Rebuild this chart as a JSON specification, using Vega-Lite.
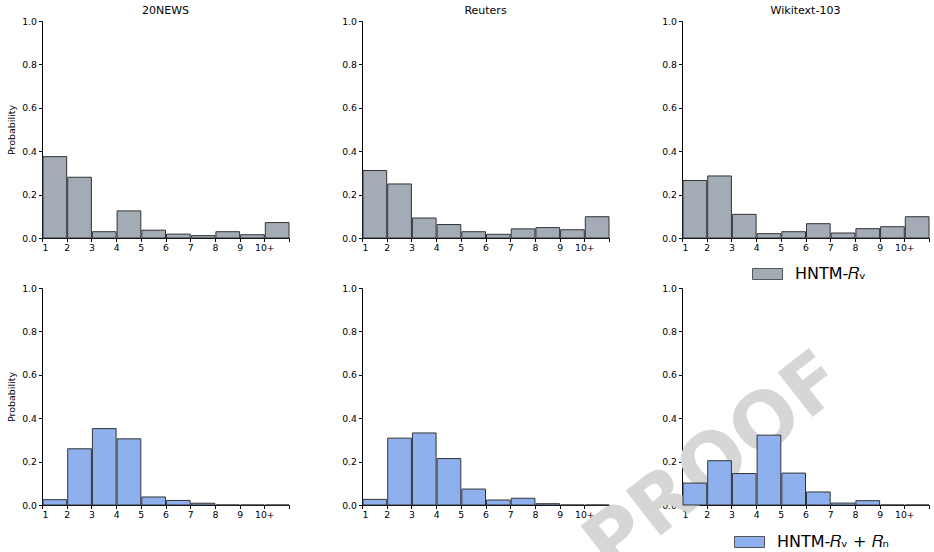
{
  "$schema": "https://vega.github.io/schema/vega-lite/v6.json",
  "padding": {"left": 6, "top": 5, "right": 0, "bottom": 0},
  "background": "white",
  "config": {
    "font": "DejaVu Sans",
    "view": {"stroke": null},
    "axis": {
      "grid": false,
      "domainColor": "#000000",
      "domainWidth": 1,
      "tickColor": "#000000",
      "tickWidth": 1,
      "tickSize": 3.5,
      "labelColor": "#000000",
      "labelFont": "DejaVu Sans",
      "labelFontSize": 9.3,
      "labelPadding": 2,
      "titleFont": "DejaVu Sans",
      "titleFontSize": 9.5,
      "titleFontWeight": "normal",
      "titleColor": "#000000",
      "titlePadding": 5.5,
      "zindex": 1
    },
    "title": {"font": "DejaVu Sans", "fontSize": 11, "fontWeight": "normal", "color": "#000000", "offset": 1},
    "legend": {"padding": 0, "labelFont": "DejaVu Sans", "labelFontSize": 16, "labelColor": "#000000"}
  },
  "datasets": {
    "hist": [
      {"dataset": "20NEWS", "model": "HNTM-𝑅ᵥ", "bin": 1, "bin_end": 2, "p": 0.375},
      {"dataset": "20NEWS", "model": "HNTM-𝑅ᵥ", "bin": 2, "bin_end": 3, "p": 0.28},
      {"dataset": "20NEWS", "model": "HNTM-𝑅ᵥ", "bin": 3, "bin_end": 4, "p": 0.029},
      {"dataset": "20NEWS", "model": "HNTM-𝑅ᵥ", "bin": 4, "bin_end": 5, "p": 0.125},
      {"dataset": "20NEWS", "model": "HNTM-𝑅ᵥ", "bin": 5, "bin_end": 6, "p": 0.036},
      {"dataset": "20NEWS", "model": "HNTM-𝑅ᵥ", "bin": 6, "bin_end": 7, "p": 0.018},
      {"dataset": "20NEWS", "model": "HNTM-𝑅ᵥ", "bin": 7, "bin_end": 8, "p": 0.011},
      {"dataset": "20NEWS", "model": "HNTM-𝑅ᵥ", "bin": 8, "bin_end": 9, "p": 0.029},
      {"dataset": "20NEWS", "model": "HNTM-𝑅ᵥ", "bin": 9, "bin_end": 10, "p": 0.015},
      {"dataset": "20NEWS", "model": "HNTM-𝑅ᵥ", "bin": 10, "bin_end": 11, "p": 0.071},
      {"dataset": "Reuters", "model": "HNTM-𝑅ᵥ", "bin": 1, "bin_end": 2, "p": 0.311},
      {"dataset": "Reuters", "model": "HNTM-𝑅ᵥ", "bin": 2, "bin_end": 3, "p": 0.249},
      {"dataset": "Reuters", "model": "HNTM-𝑅ᵥ", "bin": 3, "bin_end": 4, "p": 0.092},
      {"dataset": "Reuters", "model": "HNTM-𝑅ᵥ", "bin": 4, "bin_end": 5, "p": 0.062},
      {"dataset": "Reuters", "model": "HNTM-𝑅ᵥ", "bin": 5, "bin_end": 6, "p": 0.029},
      {"dataset": "Reuters", "model": "HNTM-𝑅ᵥ", "bin": 6, "bin_end": 7, "p": 0.017},
      {"dataset": "Reuters", "model": "HNTM-𝑅ᵥ", "bin": 7, "bin_end": 8, "p": 0.042},
      {"dataset": "Reuters", "model": "HNTM-𝑅ᵥ", "bin": 8, "bin_end": 9, "p": 0.048},
      {"dataset": "Reuters", "model": "HNTM-𝑅ᵥ", "bin": 9, "bin_end": 10, "p": 0.038},
      {"dataset": "Reuters", "model": "HNTM-𝑅ᵥ", "bin": 10, "bin_end": 11, "p": 0.098},
      {"dataset": "Wikitext-103", "model": "HNTM-𝑅ᵥ", "bin": 1, "bin_end": 2, "p": 0.265},
      {"dataset": "Wikitext-103", "model": "HNTM-𝑅ᵥ", "bin": 2, "bin_end": 3, "p": 0.286},
      {"dataset": "Wikitext-103", "model": "HNTM-𝑅ᵥ", "bin": 3, "bin_end": 4, "p": 0.109},
      {"dataset": "Wikitext-103", "model": "HNTM-𝑅ᵥ", "bin": 4, "bin_end": 5, "p": 0.02},
      {"dataset": "Wikitext-103", "model": "HNTM-𝑅ᵥ", "bin": 5, "bin_end": 6, "p": 0.029},
      {"dataset": "Wikitext-103", "model": "HNTM-𝑅ᵥ", "bin": 6, "bin_end": 7, "p": 0.066},
      {"dataset": "Wikitext-103", "model": "HNTM-𝑅ᵥ", "bin": 7, "bin_end": 8, "p": 0.023},
      {"dataset": "Wikitext-103", "model": "HNTM-𝑅ᵥ", "bin": 8, "bin_end": 9, "p": 0.043},
      {"dataset": "Wikitext-103", "model": "HNTM-𝑅ᵥ", "bin": 9, "bin_end": 10, "p": 0.052},
      {"dataset": "Wikitext-103", "model": "HNTM-𝑅ᵥ", "bin": 10, "bin_end": 11, "p": 0.098},
      {"dataset": "20NEWS", "model": "HNTM-𝑅ᵥ + 𝑅ₙ", "bin": 1, "bin_end": 2, "p": 0.0245},
      {"dataset": "20NEWS", "model": "HNTM-𝑅ᵥ + 𝑅ₙ", "bin": 2, "bin_end": 3, "p": 0.259},
      {"dataset": "20NEWS", "model": "HNTM-𝑅ᵥ + 𝑅ₙ", "bin": 3, "bin_end": 4, "p": 0.352},
      {"dataset": "20NEWS", "model": "HNTM-𝑅ᵥ + 𝑅ₙ", "bin": 4, "bin_end": 5, "p": 0.305},
      {"dataset": "20NEWS", "model": "HNTM-𝑅ᵥ + 𝑅ₙ", "bin": 5, "bin_end": 6, "p": 0.037},
      {"dataset": "20NEWS", "model": "HNTM-𝑅ᵥ + 𝑅ₙ", "bin": 6, "bin_end": 7, "p": 0.021},
      {"dataset": "20NEWS", "model": "HNTM-𝑅ᵥ + 𝑅ₙ", "bin": 7, "bin_end": 8, "p": 0.008},
      {"dataset": "20NEWS", "model": "HNTM-𝑅ᵥ + 𝑅ₙ", "bin": 8, "bin_end": 9, "p": 0},
      {"dataset": "20NEWS", "model": "HNTM-𝑅ᵥ + 𝑅ₙ", "bin": 9, "bin_end": 10, "p": 0},
      {"dataset": "20NEWS", "model": "HNTM-𝑅ᵥ + 𝑅ₙ", "bin": 10, "bin_end": 11, "p": 0},
      {"dataset": "Reuters", "model": "HNTM-𝑅ᵥ + 𝑅ₙ", "bin": 1, "bin_end": 2, "p": 0.026},
      {"dataset": "Reuters", "model": "HNTM-𝑅ᵥ + 𝑅ₙ", "bin": 2, "bin_end": 3, "p": 0.308},
      {"dataset": "Reuters", "model": "HNTM-𝑅ᵥ + 𝑅ₙ", "bin": 3, "bin_end": 4, "p": 0.332},
      {"dataset": "Reuters", "model": "HNTM-𝑅ᵥ + 𝑅ₙ", "bin": 4, "bin_end": 5, "p": 0.214},
      {"dataset": "Reuters", "model": "HNTM-𝑅ᵥ + 𝑅ₙ", "bin": 5, "bin_end": 6, "p": 0.0735},
      {"dataset": "Reuters", "model": "HNTM-𝑅ᵥ + 𝑅ₙ", "bin": 6, "bin_end": 7, "p": 0.023},
      {"dataset": "Reuters", "model": "HNTM-𝑅ᵥ + 𝑅ₙ", "bin": 7, "bin_end": 8, "p": 0.031},
      {"dataset": "Reuters", "model": "HNTM-𝑅ᵥ + 𝑅ₙ", "bin": 8, "bin_end": 9, "p": 0.006},
      {"dataset": "Reuters", "model": "HNTM-𝑅ᵥ + 𝑅ₙ", "bin": 9, "bin_end": 10, "p": 0},
      {"dataset": "Reuters", "model": "HNTM-𝑅ᵥ + 𝑅ₙ", "bin": 10, "bin_end": 11, "p": 0},
      {"dataset": "Wikitext-103", "model": "HNTM-𝑅ᵥ + 𝑅ₙ", "bin": 1, "bin_end": 2, "p": 0.101},
      {"dataset": "Wikitext-103", "model": "HNTM-𝑅ᵥ + 𝑅ₙ", "bin": 2, "bin_end": 3, "p": 0.204},
      {"dataset": "Wikitext-103", "model": "HNTM-𝑅ᵥ + 𝑅ₙ", "bin": 3, "bin_end": 4, "p": 0.145},
      {"dataset": "Wikitext-103", "model": "HNTM-𝑅ᵥ + 𝑅ₙ", "bin": 4, "bin_end": 5, "p": 0.322},
      {"dataset": "Wikitext-103", "model": "HNTM-𝑅ᵥ + 𝑅ₙ", "bin": 5, "bin_end": 6, "p": 0.147},
      {"dataset": "Wikitext-103", "model": "HNTM-𝑅ᵥ + 𝑅ₙ", "bin": 6, "bin_end": 7, "p": 0.06},
      {"dataset": "Wikitext-103", "model": "HNTM-𝑅ᵥ + 𝑅ₙ", "bin": 7, "bin_end": 8, "p": 0.009},
      {"dataset": "Wikitext-103", "model": "HNTM-𝑅ᵥ + 𝑅ₙ", "bin": 8, "bin_end": 9, "p": 0.02},
      {"dataset": "Wikitext-103", "model": "HNTM-𝑅ᵥ + 𝑅ₙ", "bin": 9, "bin_end": 10, "p": 0},
      {"dataset": "Wikitext-103", "model": "HNTM-𝑅ᵥ + 𝑅ₙ", "bin": 10, "bin_end": 11, "p": 0}
    ],
    "mark": [{"word": "PROOF"}]
  },
  "columns": 3,
  "bounds": "flush",
  "spacing": {"row": 50, "column": 73},
  "resolve": {"scale": {"fill": "independent"}, "legend": {"fill": "independent"}},
  "concat": [
    {
      "width": 247, "height": 217,
      "title": "20NEWS",
      "data": {"name": "hist"},
      "transform": [{"filter": {"field": "dataset", "equal": "20NEWS"}}, {"filter": {"field": "model", "equal": "HNTM-𝑅ᵥ"}}],
      "mark": {"type": "bar", "fill": "#a2abb6", "stroke": "#333333", "strokeWidth": 1},
      "encoding": {
        "x": {"field": "bin", "type": "quantitative", "bin": {"binned": true, "step": 1}, "scale": {"domain": [1, 11], "nice": false, "zero": false}, "axis": {"title": null, "values": [1, 2, 3, 4, 5, 6, 7, 8, 9, 10, 11], "labelExpr": "datum.value == 10 ? '10+' : datum.value == 11 ? '' : datum.label"}},
        "x2": {"field": "bin_end"},
        "y": {"field": "p", "type": "quantitative", "scale": {"domain": [0, 1], "nice": false}, "axis": {"title": "Probability", "values": [0, 0.2, 0.4, 0.6, 0.8, 1], "format": ".1f"}}
      }
    },
    {
      "width": 247, "height": 217,
      "title": "Reuters",
      "data": {"name": "hist"},
      "transform": [{"filter": {"field": "dataset", "equal": "Reuters"}}, {"filter": {"field": "model", "equal": "HNTM-𝑅ᵥ"}}],
      "mark": {"type": "bar", "fill": "#a2abb6", "stroke": "#333333", "strokeWidth": 1},
      "encoding": {
        "x": {"field": "bin", "type": "quantitative", "bin": {"binned": true, "step": 1}, "scale": {"domain": [1, 11], "nice": false, "zero": false}, "axis": {"title": null, "values": [1, 2, 3, 4, 5, 6, 7, 8, 9, 10, 11], "labelExpr": "datum.value == 10 ? '10+' : datum.value == 11 ? '' : datum.label"}},
        "x2": {"field": "bin_end"},
        "y": {"field": "p", "type": "quantitative", "scale": {"domain": [0, 1], "nice": false}, "axis": {"title": null, "values": [0, 0.2, 0.4, 0.6, 0.8, 1], "format": ".1f"}}
      }
    },
    {
      "width": 247, "height": 217,
      "title": "Wikitext-103",
      "data": {"name": "hist"},
      "transform": [{"filter": {"field": "dataset", "equal": "Wikitext-103"}}, {"filter": {"field": "model", "equal": "HNTM-𝑅ᵥ"}}],
      "mark": {"type": "bar", "stroke": "#333333", "strokeWidth": 1, "opacity": 1},
      "encoding": {
        "x": {"field": "bin", "type": "quantitative", "bin": {"binned": true, "step": 1}, "scale": {"domain": [1, 11], "nice": false, "zero": false}, "axis": {"title": null, "values": [1, 2, 3, 4, 5, 6, 7, 8, 9, 10, 11], "labelExpr": "datum.value == 10 ? '10+' : datum.value == 11 ? '' : datum.label"}},
        "x2": {"field": "bin_end"},
        "y": {"field": "p", "type": "quantitative", "scale": {"domain": [0, 1], "nice": false}, "axis": {"title": null, "values": [0, 0.2, 0.4, 0.6, 0.8, 1], "format": ".1f"}},
        "fill": {"field": "model", "type": "nominal", "scale": {"range": ["#a2abb6"]}, "legend": {"title": null, "orient": "none", "legendX": 70, "legendY": 237.5, "symbolType": "M-1,-0.367H1V0.367H-1Z", "symbolSize": 900, "symbolStrokeColor": "#555555", "symbolStrokeWidth": 1, "labelOffset": 12}}
      }
    },
    {
      "width": 247, "height": 217,
      "data": {"name": "hist"},
      "transform": [{"filter": {"field": "dataset", "equal": "20NEWS"}}, {"filter": {"field": "model", "equal": "HNTM-𝑅ᵥ + 𝑅ₙ"}}],
      "mark": {"type": "bar", "fill": "#8fb0ee", "stroke": "#333333", "strokeWidth": 1},
      "encoding": {
        "x": {"field": "bin", "type": "quantitative", "bin": {"binned": true, "step": 1}, "scale": {"domain": [1, 11], "nice": false, "zero": false}, "axis": {"title": null, "values": [1, 2, 3, 4, 5, 6, 7, 8, 9, 10, 11], "labelExpr": "datum.value == 10 ? '10+' : datum.value == 11 ? '' : datum.label"}},
        "x2": {"field": "bin_end"},
        "y": {"field": "p", "type": "quantitative", "scale": {"domain": [0, 1], "nice": false}, "axis": {"title": "Probability", "values": [0, 0.2, 0.4, 0.6, 0.8, 1], "format": ".1f"}}
      }
    },
    {
      "width": 247, "height": 217,
      "data": {"name": "hist"},
      "transform": [{"filter": {"field": "dataset", "equal": "Reuters"}}, {"filter": {"field": "model", "equal": "HNTM-𝑅ᵥ + 𝑅ₙ"}}],
      "mark": {"type": "bar", "fill": "#8fb0ee", "stroke": "#333333", "strokeWidth": 1},
      "encoding": {
        "x": {"field": "bin", "type": "quantitative", "bin": {"binned": true, "step": 1}, "scale": {"domain": [1, 11], "nice": false, "zero": false}, "axis": {"title": null, "values": [1, 2, 3, 4, 5, 6, 7, 8, 9, 10, 11], "labelExpr": "datum.value == 10 ? '10+' : datum.value == 11 ? '' : datum.label"}},
        "x2": {"field": "bin_end"},
        "y": {"field": "p", "type": "quantitative", "scale": {"domain": [0, 1], "nice": false}, "axis": {"title": null, "values": [0, 0.2, 0.4, 0.6, 0.8, 1], "format": ".1f"}}
      }
    },
    {
      "width": 247, "height": 217,
      "layer": [
        {
          "data": {"name": "mark"},
          "mark": {"type": "text", "angle": -38, "fontSize": 78, "fontWeight": "bold", "color": "#d6d6d6", "align": "center", "baseline": "middle"},
          "encoding": {
            "text": {"field": "word"},
            "x": {"datum": 2.35},
            "y": {"datum": 0.19}
          }
        },
        {
          "data": {"name": "hist"},
          "transform": [{"filter": {"field": "dataset", "equal": "Wikitext-103"}}, {"filter": {"field": "model", "equal": "HNTM-𝑅ᵥ + 𝑅ₙ"}}],
          "mark": {"type": "bar", "stroke": "#333333", "strokeWidth": 1, "opacity": 1},
          "encoding": {
            "x": {"field": "bin", "type": "quantitative", "bin": {"binned": true, "step": 1}, "scale": {"domain": [1, 11], "nice": false, "zero": false}, "axis": {"title": null, "values": [1, 2, 3, 4, 5, 6, 7, 8, 9, 10, 11], "labelExpr": "datum.value == 10 ? '10+' : datum.value == 11 ? '' : datum.label"}},
            "x2": {"field": "bin_end"},
            "y": {"field": "p", "type": "quantitative", "scale": {"domain": [0, 1], "nice": false}, "axis": {"title": null, "values": [0, 0.2, 0.4, 0.6, 0.8, 1], "format": ".1f"}},
            "fill": {"field": "model", "type": "nominal", "scale": {"range": ["#8fb0ee"]}, "legend": {"title": null, "orient": "none", "legendX": 52, "legendY": 238.5, "symbolType": "M-1,-0.367H1V0.367H-1Z", "symbolSize": 900, "symbolStrokeColor": "#555555", "symbolStrokeWidth": 1, "labelOffset": 12}}
          }
        }
      ]
    }
  ]
}
